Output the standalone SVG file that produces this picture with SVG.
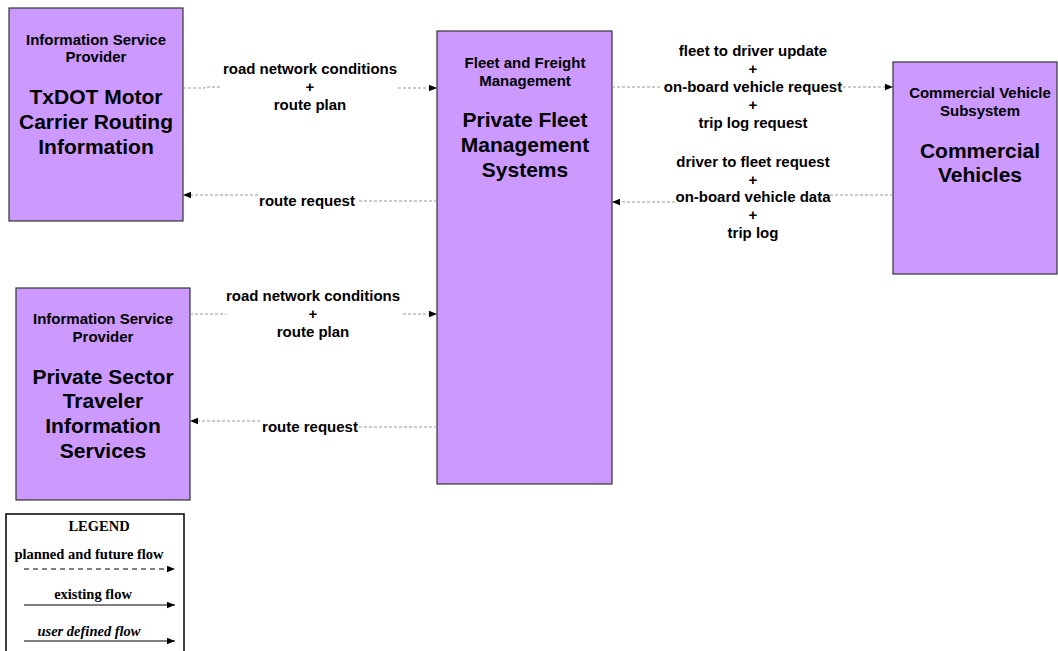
<svg xmlns="http://www.w3.org/2000/svg" width="1058" height="651" viewBox="0 0 1058 651">
<style>
.box{fill:#CC99FF;stroke:#333;stroke-width:1.2}
.hd{font-family:"Liberation Sans",Arial,sans-serif;font-weight:bold;font-size:15px;fill:#000;text-anchor:middle}
.tt{font-family:"Liberation Sans",Arial,sans-serif;font-weight:bold;font-size:21px;fill:#000;text-anchor:middle}
.lb{font-family:"Liberation Sans",Arial,sans-serif;font-weight:bold;font-size:15px;fill:#000;text-anchor:middle}
.fl{fill:none;stroke:#999;stroke-width:1;stroke-dasharray:3,2}
.lg{font-family:"Liberation Serif","Times New Roman",serif;font-weight:bold;font-size:14.5px;fill:#000;text-anchor:middle}
</style>
<defs>
<marker id="ah" viewBox="0 0 10 10" refX="10" refY="5" markerWidth="8" markerHeight="8" markerUnits="userSpaceOnUse" orient="auto">
<path d="M0,1 L10,5 L0,9 Z" fill="#000"/>
</marker>
</defs>
<rect width="1058" height="651" fill="#fff"/>
<g id="txdot">
<rect class="box" x="9" y="8" width="174" height="213"/>
<text class="hd" x="96" y="45">Information Service</text>
<text class="hd" x="96" y="62">Provider</text>
<text class="tt" x="96" y="104">TxDOT Motor</text>
<text class="tt" x="96" y="129">Carrier Routing</text>
<text class="tt" x="96" y="154">Information</text>
</g>
<g id="privsector">
<rect class="box" x="16" y="288" width="174" height="212"/>
<text class="hd" x="103" y="324">Information Service</text>
<text class="hd" x="103" y="342">Provider</text>
<text class="tt" x="103" y="384">Private Sector</text>
<text class="tt" x="103" y="408">Traveler</text>
<text class="tt" x="103" y="433">Information</text>
<text class="tt" x="103" y="458">Services</text>
</g>
<g id="fleet">
<rect class="box" x="437" y="31" width="175" height="453"/>
<text class="hd" x="525" y="68">Fleet and Freight</text>
<text class="hd" x="525" y="86">Management</text>
<text class="tt" x="525" y="127">Private Fleet</text>
<text class="tt" x="525" y="152">Management</text>
<text class="tt" x="525" y="177">Systems</text>
</g>
<g id="commercial">
<rect class="box" x="893" y="62" width="164" height="212"/>
<text class="hd" x="980" y="98">Commercial Vehicle</text>
<text class="hd" x="980" y="116">Subsystem</text>
<text class="tt" x="980" y="158">Commercial</text>
<text class="tt" x="980" y="182">Vehicles</text>
</g>
<g id="connectors">
<polyline class="fl" points="183,88 205,88 205,87 222,87"/>
<line class="fl" x1="398" y1="88" x2="437" y2="88" marker-end="url(#ah)"/>
<text class="lb" x="310" y="74">road network conditions</text>
<text class="lb" x="310" y="92">+</text>
<text class="lb" x="310" y="110">route plan</text>

<line class="fl" x1="437" y1="201" x2="357" y2="201"/>
<line class="fl" x1="258" y1="195" x2="183" y2="195" marker-end="url(#ah)"/>
<text class="lb" x="307" y="206">route request</text>

<line class="fl" x1="190" y1="314" x2="226" y2="314"/>
<line class="fl" x1="403" y1="314" x2="437" y2="314" marker-end="url(#ah)"/>
<text class="lb" x="313" y="301">road network conditions</text>
<text class="lb" x="313" y="319">+</text>
<text class="lb" x="313" y="337">route plan</text>

<line class="fl" x1="437" y1="427" x2="359" y2="427"/>
<line class="fl" x1="260" y1="421" x2="190" y2="421" marker-end="url(#ah)"/>
<text class="lb" x="310" y="432">route request</text>

<line class="fl" x1="612" y1="87" x2="662" y2="87"/>
<line class="fl" x1="843" y1="87" x2="893" y2="87" marker-end="url(#ah)"/>
<text class="lb" x="753" y="56">fleet to driver update</text>
<text class="lb" x="753" y="74">+</text>
<text class="lb" x="753" y="92">on-board vehicle request</text>
<text class="lb" x="753" y="110">+</text>
<text class="lb" x="753" y="128">trip log request</text>

<line class="fl" x1="893" y1="195" x2="830" y2="195"/>
<line class="fl" x1="675" y1="202" x2="612" y2="202" marker-end="url(#ah)"/>
<text class="lb" x="753" y="167">driver to fleet request</text>
<text class="lb" x="753" y="185">+</text>
<text class="lb" x="753" y="202">on-board vehicle data</text>
<text class="lb" x="753" y="220">+</text>
<text class="lb" x="753" y="238">trip log</text>
</g>
<g id="legend">
<rect x="6" y="514" width="178" height="145" fill="#fff" stroke="#000" stroke-width="1.5"/>
<text class="lg" x="99" y="531">LEGEND</text>
<text class="lg" x="89" y="559">planned and future flow</text>
<line x1="24" y1="569" x2="175" y2="569" stroke="#000" stroke-width="1.2" stroke-dasharray="5,4" marker-end="url(#ah)"/>
<text class="lg" x="93" y="599">existing flow</text>
<line x1="24" y1="605" x2="175" y2="605" stroke="#000" stroke-width="1.2" marker-end="url(#ah)"/>
<text class="lg" x="89" y="636" font-style="italic">user defined flow</text>
<line x1="24" y1="641" x2="175" y2="641" stroke="#000" stroke-width="1.2" marker-end="url(#ah)"/>
</g>
</svg>
